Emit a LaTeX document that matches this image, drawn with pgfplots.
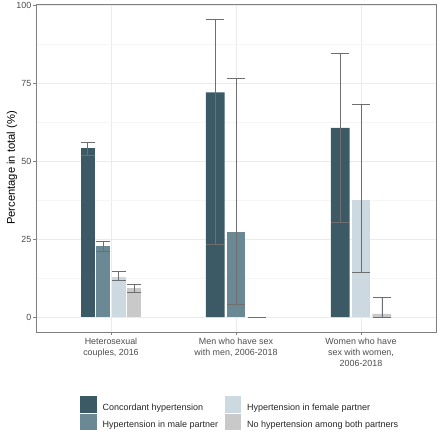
\documentclass[border=0pt]{standalone}
\usepackage{pgfplots}
\pgfplotsset{compat=1.18}
\usepackage{pgfplotstable}
\usepackage{fontspec}
\setmainfont{Liberation Sans}
\definecolor{conc}{HTML}{3C5A66}
\definecolor{male}{HTML}{6B8995}
\definecolor{fem}{HTML}{CCD9E0}
\definecolor{nohyp}{HTML}{C9C9C9}
\definecolor{errg}{HTML}{6E6E6E}
\definecolor{gridmaj}{HTML}{EBEBEB}
\definecolor{gridmin}{HTML}{F5F5F5}
\definecolor{border}{HTML}{808080}
\definecolor{tickg}{HTML}{4D4D4D}

% group 1 (four bars)
\pgfplotstableread{
x y ep em
0.8125 54.1 2.0 2.1
}\concA
\pgfplotstableread{
x y ep em
0.9375 22.7 1.7 1.6
}\maleA
\pgfplotstableread{
x y ep em
1.0625 13.0 1.7 1.2
}\femA
\pgfplotstableread{
x y ep em
1.1875 9.2 1.4 1.2
}\noneA
% groups 2 and 3 (three bars)
\pgfplotstableread{
x y ep em
1.8333 72.1 23.5 48.8
2.8333 60.7 23.9 30.4
}\concB
\pgfplotstableread{
x y ep em
2.0 27.4 49.1 23.4
}\maleB
\pgfplotstableread{
x y ep em
3.0 37.6 30.7 23.1
}\femB
\pgfplotstableread{
x y ep em
2.1667 0.0 0.0 0.0
3.1667 1.0 5.5 1.0
}\noneB

\begin{document}
\begin{tikzpicture}
\begin{axis}[
  scale only axis, width=400pt, height=328pt,
  xmin=0.4, xmax=3.6, ymin=-4.78, ymax=100.4,
  xtick={1,2,3},
  xticklabels={{Heterosexual\\couples, 2016},{Men who have sex\\with men, 2006-2018},{Women who have\\sex with women,\\2006-2018}},
  xticklabel style={align=center, text=tickg, font=\fontsize{8.9}{11}\selectfont, inner sep=3pt},
  ytick={0,25,50,75,100},
  minor ytick={12.5,37.5,62.5,87.5},
  yticklabel style={text=tickg, font=\fontsize{8.9}{10}\selectfont, inner sep=1.5pt},
  /pgf/number format/assume math mode=true,
  grid=both,
  major grid style={gridmaj, line width=0.5pt},
  minor grid style={gridmin, line width=0.3pt},
  tick align=outside, major tick length=3pt, minor tick length=0pt,
  tick style={border, line width=0.5pt},
  xtick pos=lower, ytick pos=left,
  axis line style={border, line width=0.6pt},
  every axis y label/.style={at={(axis description cs:-0.06,0.5)}, rotate=90, anchor=center},
  ylabel={\fontsize{11.2}{12}\selectfont Percentage in total (\%)},
  ybar, bar shift=0pt,
  error bars/y dir=both, error bars/y explicit,
  error bars/error bar style={errg, line width=0.65pt},
  legend columns=2, transpose legend,
  legend cell align=left,
  legend style={at={(axis description cs:0.11,-0.195)}, anchor=north west, draw=none, fill=none,
    font=\fontsize{9}{10}\selectfont, inner sep=0pt, row sep=1.4pt,
    nodes={inner sep=0pt, text=black!85},
    /tikz/every odd column/.append style={column sep=6pt},
    /tikz/every even column/.append style={column sep=6.5pt}},
  legend image code/.code={\fill[#1] (0pt,-5pt) rectangle (16.4pt,11.4pt);},
]
\addplot[fill=conc, draw=none, bar width=0.1125, error bars/error mark options={rotate=90, mark size=7pt, errg, line width=0.65pt}, forget plot] table[x=x,y=y,y error plus=ep,y error minus=em]{\concA};
\addplot[fill=male, draw=none, bar width=0.1125, error bars/error mark options={rotate=90, mark size=7pt, errg, line width=0.65pt}, forget plot] table[x=x,y=y,y error plus=ep,y error minus=em]{\maleA};
\addplot[fill=fem, draw=none, bar width=0.1125, error bars/error mark options={rotate=90, mark size=7pt, errg, line width=0.65pt}, forget plot] table[x=x,y=y,y error plus=ep,y error minus=em]{\femA};
\addplot[fill=nohyp, draw=none, bar width=0.1125, error bars/error mark options={rotate=90, mark size=7pt, errg, line width=0.65pt}, forget plot] table[x=x,y=y,y error plus=ep,y error minus=em]{\noneA};
\addplot[fill=conc, draw=none, bar width=0.15, error bars/error mark options={rotate=90, mark size=8.8pt, errg, line width=0.65pt}, forget plot] table[x=x,y=y,y error plus=ep,y error minus=em]{\concB};
\addplot[fill=male, draw=none, bar width=0.15, error bars/error mark options={rotate=90, mark size=8.8pt, errg, line width=0.65pt}, forget plot] table[x=x,y=y,y error plus=ep,y error minus=em]{\maleB};
\addplot[fill=fem, draw=none, bar width=0.15, error bars/error mark options={rotate=90, mark size=8.8pt, errg, line width=0.65pt}, forget plot] table[x=x,y=y,y error plus=ep,y error minus=em]{\femB};
\addplot[fill=nohyp, draw=none, bar width=0.15, error bars/error mark options={rotate=90, mark size=8.8pt, errg, line width=0.65pt}, forget plot] table[x=x,y=y,y error plus=ep,y error minus=em]{\noneB};
\addlegendimage{fill=conc, draw=none}
\addlegendentry{Concordant hypertension}
\addlegendimage{fill=male, draw=none}
\addlegendentry{Hypertension in male partner}
\addlegendimage{fill=fem, draw=none}
\addlegendentry{Hypertension in female partner}
\addlegendimage{fill=nohyp, draw=none}
\addlegendentry{No hypertension among both partners}
\end{axis}
\pgfresetboundingbox
\path[use as bounding box] ([shift={(-36pt,-105pt)}]current axis.south west) rectangle ([shift={(4pt,4pt)}]current axis.north east);
\end{tikzpicture}
\end{document}
